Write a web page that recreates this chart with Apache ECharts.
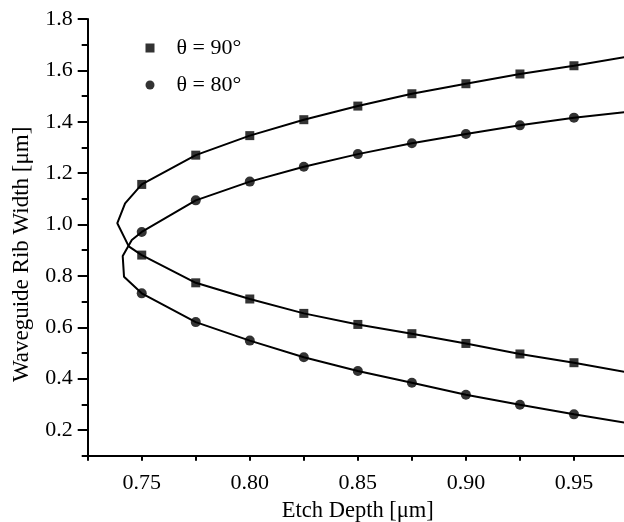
<!DOCTYPE html>
<html>
<head>
<meta charset="utf-8">
<script src="https://cdn.jsdelivr.net/npm/echarts@6/dist/echarts.min.js"></script>
<style>html,body{margin:0;padding:0;background:#fff}#c{width:624px;height:522px}</style>
</head>
<body>
<div id="c"></div>
<script>
// Data
const depth = [0.75, 0.775, 0.8, 0.825, 0.85, 0.875, 0.9, 0.925, 0.95];
const upper90 = [1.156, 1.270, 1.346, 1.408, 1.461, 1.509, 1.548, 1.586, 1.618];
const lower90 = [0.881, 0.773, 0.710, 0.654, 0.611, 0.575, 0.537, 0.496, 0.462];
const upper80 = [0.971, 1.094, 1.167, 1.225, 1.274, 1.316, 1.352, 1.386, 1.416];
const lower80 = [0.732, 0.620, 0.548, 0.483, 0.430, 0.384, 0.337, 0.298, 0.261];
// curve points near the turning point (from lower branch to upper branch)
const tip90X = [0.7440, 0.7387, 0.7423];
const tip90Y = [0.915, 1.005, 1.082];
const tip80X = [0.7418, 0.7412, 0.7454];
const tip80Y = [0.797, 0.877, 0.940];
// curve continuation at the right edge
const edgeDepth = 0.975;
const edge90 = { lower: 0.424, upper: 1.654 };
const edge80 = { lower: 0.227, upper: 1.439 };
const names = ['\u03B8 = 90\u00B0', '\u03B8 = 80\u00B0'];
const xLabelVals = [0.75, 0.80, 0.85, 0.90, 0.95];
const xTickVals = [0.725, 0.75, 0.775, 0.8, 0.825, 0.85, 0.875, 0.9, 0.925, 0.95, 0.975];
const yLabelVals = [0.2, 0.4, 0.6, 0.8, 1.0, 1.2, 1.4, 1.6, 1.8];
const yMinorVals = [0.1, 0.3, 0.5, 0.7, 0.9, 1.1, 1.3, 1.5, 1.7];

function curve(lower, upper, tx, ty, edge) {
  const pts = [[edgeDepth, edge.lower]];
  for (let i = depth.length - 1; i >= 0; i--) pts.push([depth[i], lower[i]]);
  for (let i = 0; i < tx.length; i++) pts.push([tx[i], ty[i]]);
  for (let i = 0; i < depth.length; i++) pts.push([depth[i], upper[i]]);
  pts.push([edgeDepth, edge.upper]);
  return pts;
}
function markers(lower, upper) {
  const pts = [];
  for (let i = 0; i < depth.length; i++) { pts.push([depth[i], upper[i]]); pts.push([depth[i], lower[i]]); }
  return pts;
}

const FONT = '"Liberation Serif", "Times New Roman", serif';
const INK = '#000';
const chart = echarts.init(document.getElementById('c'), null, { renderer: 'canvas' });
chart.setOption({
  animation: false,
  backgroundColor: '#fff',
  grid: { left: 87.7, right: -4, top: 19, bottom: 66.3, containLabel: false, outerBoundsMode: 'none' },
  legend: {
    data: [{ name: names[0], icon: 'rect' }, { name: names[1], icon: 'circle' }],
    orient: 'vertical', left: 140.5, top: 32, itemWidth: 9, itemHeight: 9, itemGap: 15,
    textStyle: { fontFamily: FONT, fontSize: 22, color: INK, padding: [0, 0, 0, 17] }
  },
  xAxis: [{
    type: 'value', min: 0.725, max: 0.975,
    axisLine: { show: true, lineStyle: { color: INK, width: 2 } },
    axisTick: { show: true, customValues: xTickVals, length: 5, lineStyle: { color: INK, width: 2 } },
    axisLabel: { customValues: xLabelVals, formatter: v => v.toFixed(2), fontFamily: FONT, fontSize: 22, color: INK, margin: 17 },
    splitLine: { show: false },
    name: 'Etch Depth [\u03BCm]', nameLocation: 'middle', nameGap: 41,
    nameTextStyle: { fontFamily: FONT, fontSize: 22.5, color: INK }
  }],
  yAxis: [{
    type: 'value', min: 0.1, max: 1.8,
    axisLine: { show: true, lineStyle: { color: INK, width: 2 } },
    axisTick: { show: true, customValues: yLabelVals, length: 10, lineStyle: { color: INK, width: 2 } },
    axisLabel: { customValues: yLabelVals, formatter: v => v.toFixed(1), fontFamily: FONT, fontSize: 22, color: INK, margin: 15 },
    splitLine: { show: false },
    name: 'Waveguide Rib Width [\u03BCm]', nameLocation: 'middle', nameGap: 54,
    nameTextStyle: { fontFamily: FONT, fontSize: 23, color: INK, padding: [0, 34, 0, 0] }
  }, {
    type: 'value', min: 0.1, max: 1.8, position: 'left',
    axisLine: { show: false },
    axisTick: { show: true, customValues: yMinorVals, length: 6, lineStyle: { color: INK, width: 2 } },
    axisLabel: { show: false },
    splitLine: { show: false }
  }],
  series: [
    { type: 'line', name: 'c90', data: curve(lower90, upper90, tip90X, tip90Y, edge90), symbol: 'none', lineStyle: { color: INK, width: 2 }, silent: true, z: 2 },
    { type: 'line', name: 'c80', data: curve(lower80, upper80, tip80X, tip80Y, edge80), symbol: 'none', lineStyle: { color: INK, width: 2 }, silent: true, z: 2 },
    { type: 'scatter', name: names[0], data: markers(lower90, upper90), symbol: 'rect', symbolSize: 9, itemStyle: { color: INK }, z: 3 },
    { type: 'scatter', name: names[1], data: markers(lower80, upper80), symbol: 'circle', symbolSize: 10, itemStyle: { color: INK }, z: 3 }
  ]
});
</script>
</body>
</html>
